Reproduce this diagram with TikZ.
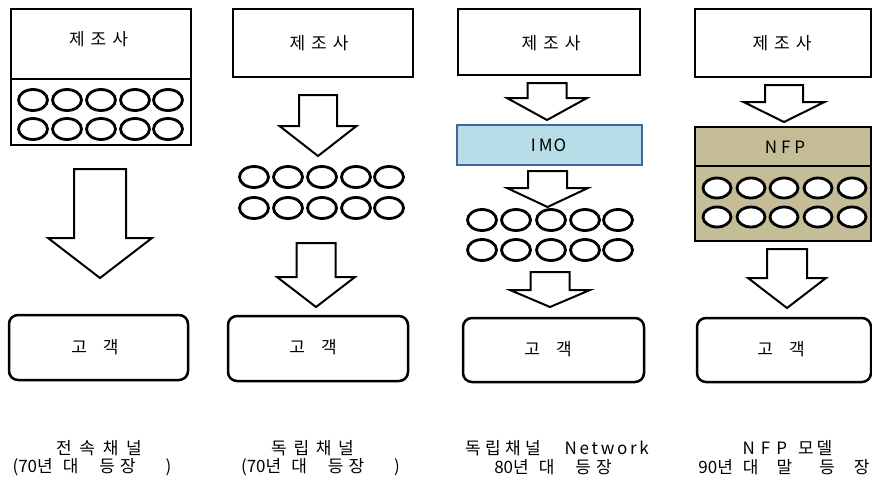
\documentclass[tikz,border=0pt]{standalone}
\usepackage{fontspec}
\usetikzlibrary{shapes.geometric}
\setmainfont{Noto Sans CJK KR}
\newfontfamily\krL[LetterSpace=16]{Noto Sans CJK KR}
\newcommand\gp[1]{\hspace{#1pt}}
\definecolor{imofill}{HTML}{B7DEE8}
\definecolor{imoline}{HTML}{41679A}
\definecolor{nfpfill}{HTML}{C4BD97}
\tikzset{
  boxline/.style={draw=black, line width=2pt},
  custbox/.style={draw=black, line width=2.5pt, rounded corners=9pt},
  egg/.style={ellipse, draw=black, line width=2.8pt, inner sep=0pt, minimum width=29pt, minimum height=21pt},
  whiteegg/.style={egg, fill=white, minimum width=28pt, minimum height=20pt},
  blockarrow/.style={draw=black, line width=2pt, fill=white, line join=miter},
  lbl/.style={inner sep=0pt, font=\fontsize{17pt}{19pt}\selectfont},
}
\newcommand\blkarrow[6]{% cx, top, head, tip, shaft half, head half
  \draw[blockarrow] ({#1-#5},#2) -- ({#1+#5},#2) -- ({#1+#5},#3) -- ({#1+#6},#3) -- (#1,#4) -- ({#1-#6},#3) -- ({#1-#5},#3) -- cycle;}
\newcommand\eggrow[4]{% prefix, y, style, x list
  \foreach \xx [count=\i] in {#4} {\node[#3] (#1\i) at (\xx,#2) {};}}
\begin{document}
\begin{tikzpicture}[x=1pt,y=-1pt]
\useasboundingbox (0,0) rectangle (872,483);
\fill[white] (0,0) rectangle (872,483);

% ---------- Column 1 ----------
\draw[boxline] (11,9) rectangle (191,145);
\draw[boxline] (11,79) -- (191,79);
\node[lbl] (m1) at (98.5,39) {제\gp{6}조\gp{6}사};
\eggrow{a}{100}{egg}{33,67,101,135,168}
\eggrow{b}{129}{egg}{33,67,101,135,168}
\blkarrow{100}{169}{238}{278}{26}{52}
\draw[custbox] (9,315) rectangle (188,380);
\node[lbl] (c1) at (95,347) {고\gp{16}객};
\node[lbl] (l1a) at (99,448) {전\gp{7.7}속\gp{7.7}채\gp{7.7}널};
\node[lbl] (l1b) at (92,467) {(70년\gp{10}대\gp{21}등\gp{5}장\gp{30})};

% ---------- Column 2 ----------
\draw[boxline] (233,9) rectangle (413,77);
\node[lbl] (m2) at (319,43) {제\gp{6}조\gp{6}사};
\blkarrow{318}{95}{126}{156}{19}{38.5}
\eggrow{d}{177}{egg}{254,288,322,356,389}
\eggrow{e}{208}{egg}{254,288,322,356,389}
\blkarrow{316}{243}{277}{307}{19.5}{39}
\draw[custbox] (228,316) rectangle (408,381);
\node[lbl] (c2) at (313,347) {고\gp{16}객};
\node[lbl] (l2a) at (312.5,448) {독\gp{6.7}립\gp{6.7}채\gp{6.7}널};
\node[lbl] (l2b) at (320.5,467) {(70년\gp{10}대\gp{21}등\gp{5}장\gp{30})};

% ---------- Column 3 ----------
\draw[boxline] (458,9) rectangle (640,75);
\node[lbl] (m3) at (551,43) {제\gp{6}조\gp{6}사};
\blkarrow{547}{83}{98}{120}{19.5}{40}
\node[draw=imoline, fill=imofill, line width=1.6pt, minimum width=185pt, minimum height=40pt, inner sep=0pt] (imo) at (549.5,145) {};
\node[lbl] (imot) at (548.5,145) {I\gp{3}M\gp{1}O};
\blkarrow{547.5}{171}{188}{207}{19.5}{40.5}
\eggrow{f}{220}{egg}{482,516,551,585,618}
\eggrow{g}{250}{egg}{482,516,551,585,618}
\blkarrow{550}{272}{290}{307}{19.5}{40}
\draw[custbox] (463,318) rectangle (644,382);
\node[lbl] (c3) at (548,349) {고\gp{16}객};
\node[lbl] (l3a) at (557,448) {독\gp{4.3}립\gp{4.3}채\gp{4.3}널\gp{24}{\krL Network}};
\node[lbl] (l3b) at (553,467) {80년\gp{10}대\gp{21}등\gp{5}장};

% ---------- Column 4 ----------
\draw[boxline] (695,9) rectangle (871,77);
\node[lbl] (m4) at (782,43) {제\gp{6}조\gp{6}사};
\blkarrow{784}{85}{102}{122}{19}{40.5}
\draw[boxline, fill=nfpfill] (695,127) rectangle (871,241);
\draw[boxline] (695,166) -- (871,166);
\node[lbl] (nfpt) at (785,147) {N\gp{4}F\gp{4}P};
\eggrow{h}{188}{whiteegg}{717,751,784,818,852}
\eggrow{k}{217}{whiteegg}{717,751,784,818,852}
\blkarrow{787}{249}{278}{308}{20}{39}
\draw[custbox] (697,318) rectangle (871,382);
\node[lbl] (c4) at (781,349) {고\gp{16}객};
\node[lbl] (l4a) at (787.5,448) {N\gp{6}F\gp{6}P\gp{11}모\gp{3}델};
\node[lbl] (l4b) at (784,467) {90년\gp{10}대\gp{18}말\gp{27}등\gp{19}장};
\end{tikzpicture}
\end{document}
